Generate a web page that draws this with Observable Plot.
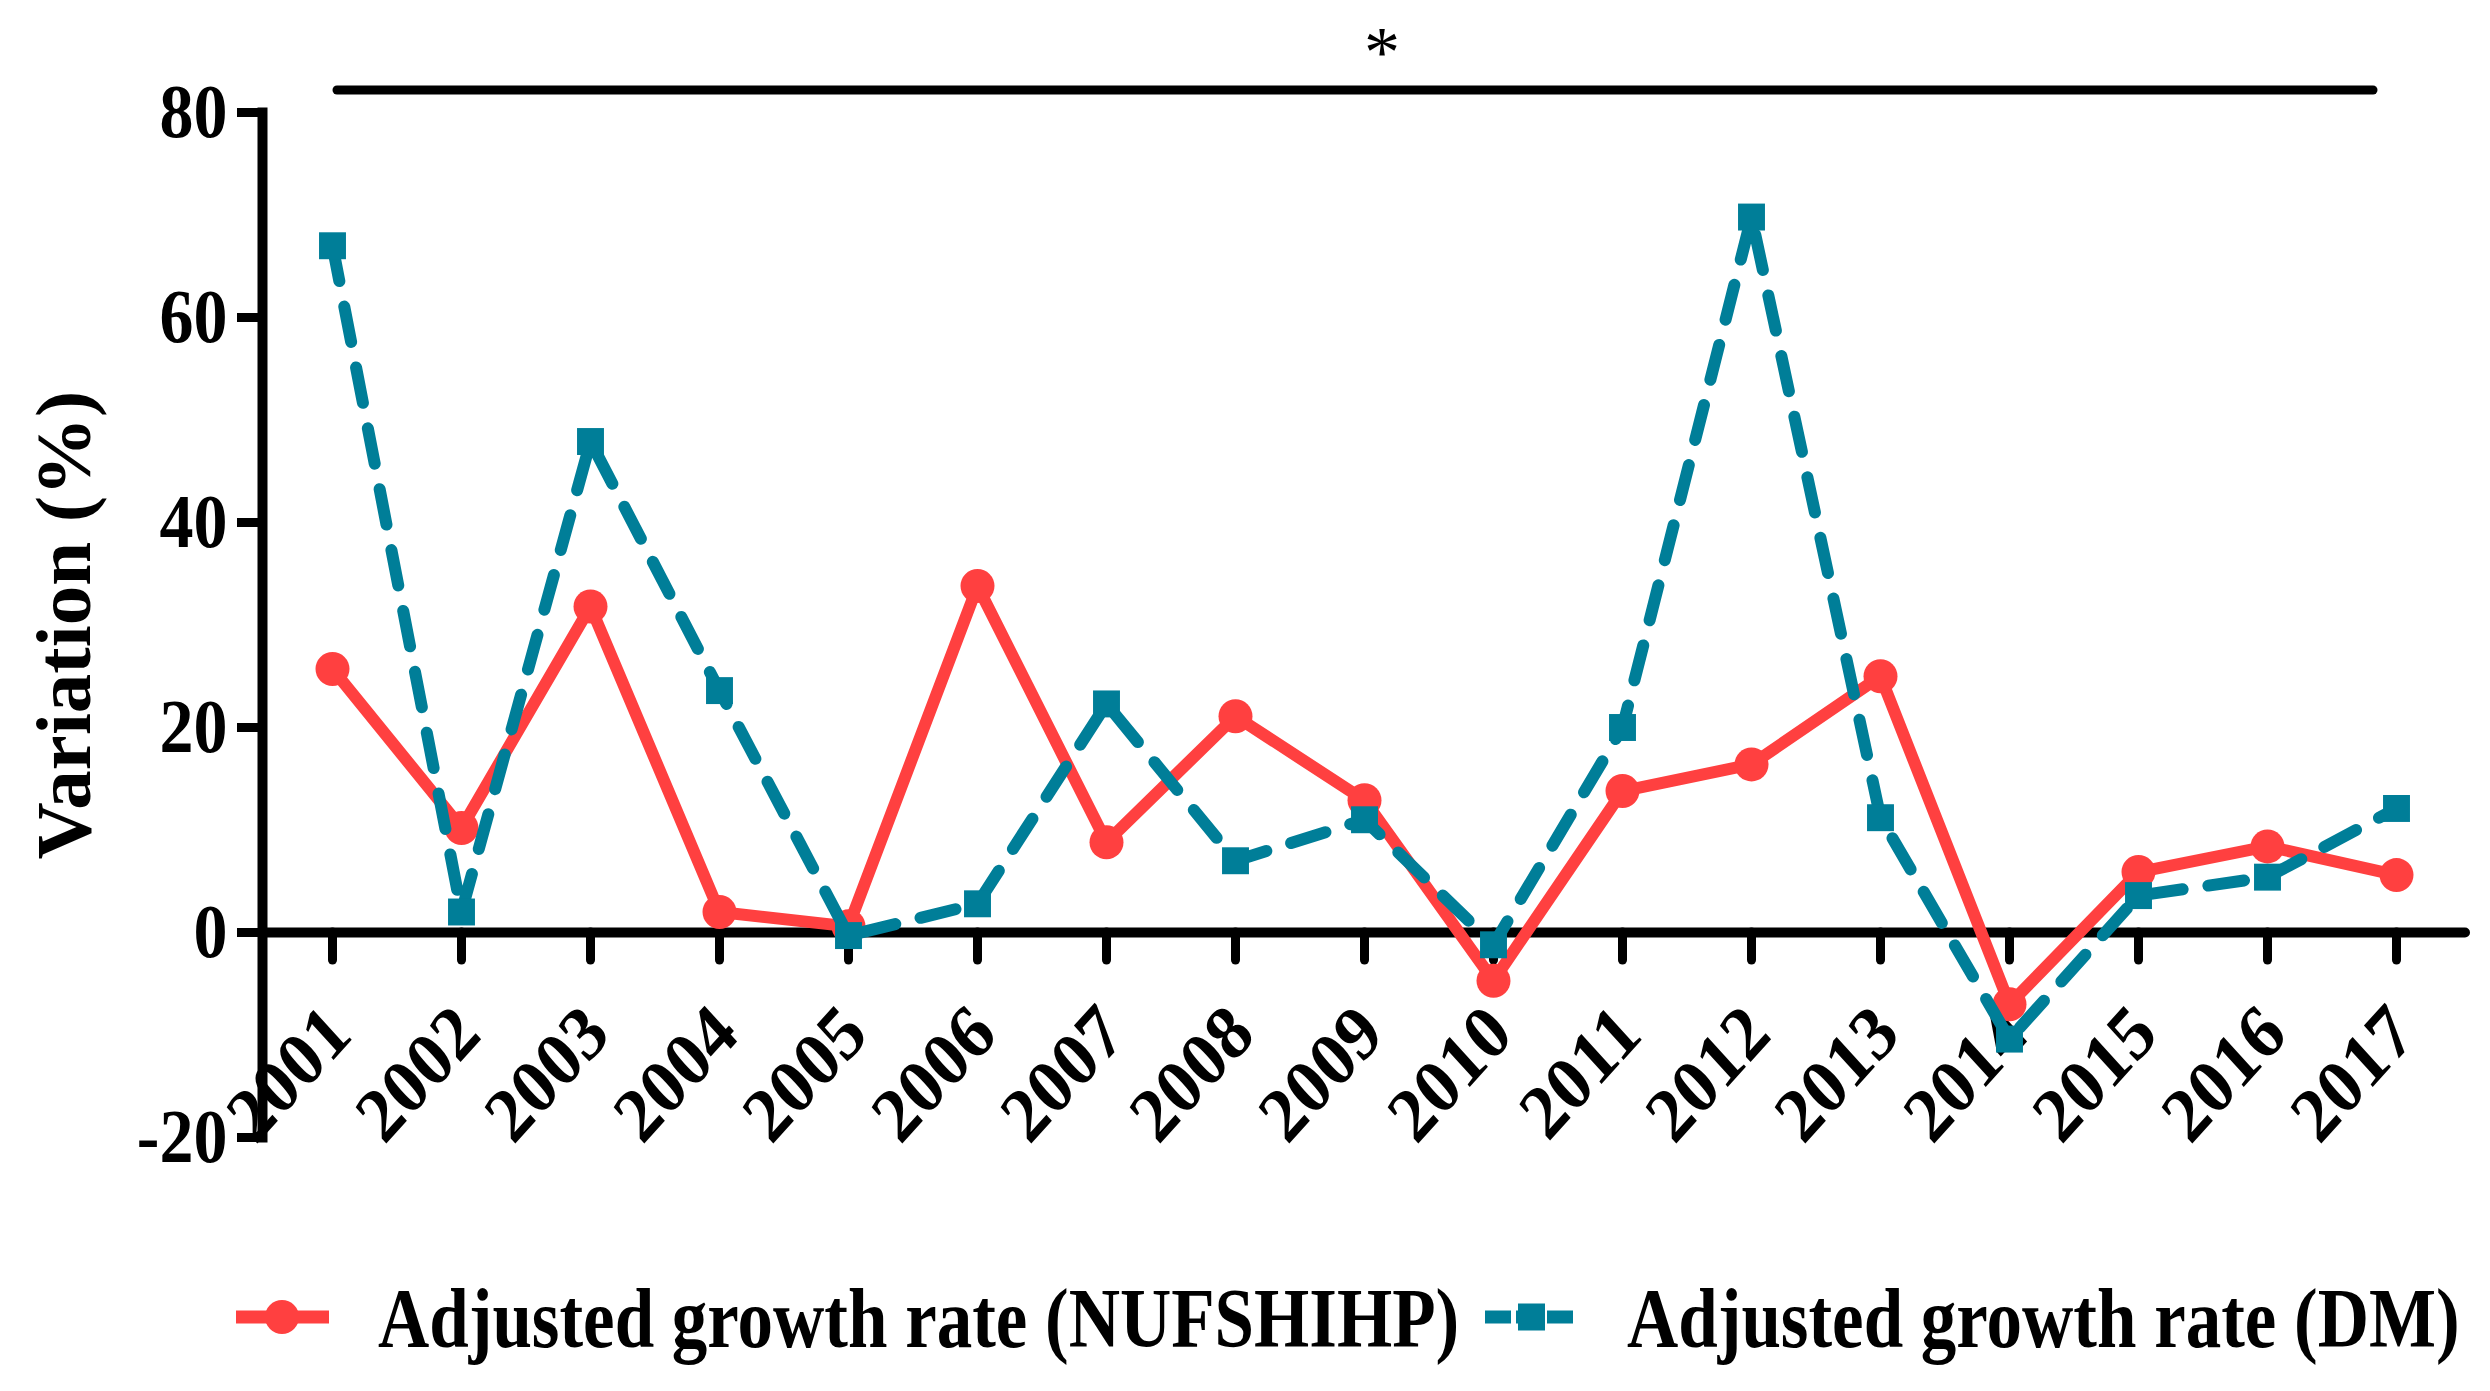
<!DOCTYPE html>
<html><head><meta charset="utf-8">
<script src="https://cdn.jsdelivr.net/npm/d3@7"></script>
<script src="https://cdn.jsdelivr.net/npm/@observablehq/plot@0.6"></script>
<style>
body{margin:0;background:#fff;}
#chart svg, #legend svg{display:block}
</style></head><body>
<div id="chart"></div>
<div id="legend"></div>
<script>
// ---- data ----
const years = ["2001","2002","2003","2004","2005","2006","2007","2008","2009","2010","2011","2012","2013","2014","2015","2016","2017"];
const nufshihp = [25.7,10.2,31.8,2.0,0.6,33.8,8.8,21.1,12.9,-4.7,13.8,16.4,25.0,-7.0,5.9,8.4,5.6];
const dm = [67.0,2.0,47.9,23.6,-0.3,2.8,22.3,7.0,11.0,-1.2,20.0,69.8,11.2,-10.4,3.6,5.4,12.1];
const yTicks = [-20,0,20,40,60,80];
const yDomain = [-20,80];
const seriesNames = ["Adjusted growth rate (NUFSHIHP)", "Adjusted growth rate (DM)"];
const yTitle = "Variation (%)";
const sigLabel = "*";
const sigY = 82.2;
const sigSpan = ["2001","2017"];
const colors = ["#FF4040", "#007E98"];

const redData = years.map((year,i)=>({year, value: nufshihp[i]}));
const tealData = years.map((year,i)=>({year, value: dm[i]}));

const FONT = "'Liberation Serif', 'Times New Roman', serif";
const W = 2490, H = 1200, mt = 112, mb = 63, ml = 262, mr = 25;
const frameH = H - mt - mb;
const zeroDy = -(0 - yDomain[0]) / (yDomain[1] - yDomain[0]) * frameH;

const plot = Plot.plot({
  width: W, height: H,
  marginTop: mt, marginBottom: mb, marginLeft: ml, marginRight: mr,
  style: {fontFamily: FONT, fontWeight: "bold", background: "white", color: "black"},
  x: {type: "point", domain: years, padding: 0.5},
  y: {domain: yDomain},
  marks: [
    Plot.frame({anchor: "left", stroke: "black", strokeWidth: 10}),
    Plot.ruleY([0], {stroke: "black", strokeWidth: 10, strokeLinecap: "round"}),
    Plot.axisY({ticks: yTicks, tickSize: 25, tickPadding: 10, strokeWidth: 9, fontSize: 68, label: null, tickFormat: d => String(d)}),
    Plot.axisX({fill: "none", tickSize: 28, strokeWidth: 9, strokeLinecap: "round", label: null, dy: zeroDy}),
    Plot.axisX({stroke: "none", tickSize: 0, tickPadding: 87, tickRotate: -45, fontSize: 70, label: null, dy: zeroDy, dx: 6}),
    Plot.text([yTitle], {frameAnchor: "left", textAnchor: "middle", text: d => d, rotate: -90, dx: -198, fontSize: 79, fontWeight: "bold"}),
    Plot.ruleY([{y: sigY, x1: sigSpan[0], x2: sigSpan[1]}], {y: "y", x1: "x1", x2: "x2", insetLeft: 5, insetRight: 23, stroke: "black", strokeWidth: 9, strokeLinecap: "round"}),
    Plot.text([sigLabel], {y: () => sigY, text: d => d, fontSize: 72, fontWeight: "normal", dx: 18, dy: -37}),
    Plot.line(redData, {x: "year", y: "value", stroke: colors[0], strokeWidth: 12, strokeLinejoin: "round"}),
    Plot.dot(redData, {x: "year", y: "value", r: 17, fill: colors[0]}),
    Plot.line(tealData, {x: "year", y: "value", stroke: colors[1], strokeWidth: 12, strokeDasharray: "36,26", strokeLinecap: "round", strokeLinejoin: "round"}),
    Plot.dot(tealData, {x: "year", y: "value", r: 15.2, symbol: "square", fill: colors[1]})
  ]
});
// slightly taller glyphs for the tick labels, like the condensed serif of the original
d3.select(plot).selectAll('g[aria-label="y-axis tick label"] text').each(function() {
  const t = this.getAttribute("transform") || "";
  this.setAttribute("transform", t + " scale(1,1.12)");
});
d3.select(plot).selectAll('g[aria-label="x-axis tick label"] text').each(function() {
  const t = this.getAttribute("transform") || "";
  this.setAttribute("transform", t.includes("rotate") ? t.replace("rotate", "scale(1,1.1) rotate") : t + " scale(1,1.1)");
});
document.getElementById("chart").appendChild(plot);

// ---- legend (below the chart) ----
const lg = d3.select("#legend").append("svg").attr("width", W).attr("height", 191)
  .style("font-family", FONT).style("font-weight", "bold");
const cy = 117;
// red item
lg.append("line").attr("x1", 236).attr("x2", 329).attr("y1", cy).attr("y2", cy)
  .attr("stroke", colors[0]).attr("stroke-width", 13);
lg.append("circle").attr("cx", 282).attr("cy", cy).attr("r", 17).attr("fill", colors[0]);
lg.append("text").attr("transform", "translate(378,147) scale(1,1.2)")
  .attr("font-size", 71).text(seriesNames[0]);
// teal item
lg.append("line").attr("x1", 1485).attr("x2", 1578).attr("y1", cy).attr("y2", cy)
  .attr("stroke", colors[1]).attr("stroke-width", 13).attr("stroke-dasharray", "26,5");
lg.append("rect").attr("x", 1518).attr("y", cy - 13.5).attr("width", 27).attr("height", 27).attr("fill", colors[1]);
lg.append("text").attr("transform", "translate(1627,147) scale(1,1.2)")
  .attr("font-size", 71).text(seriesNames[1]);
</script>
</body></html>
